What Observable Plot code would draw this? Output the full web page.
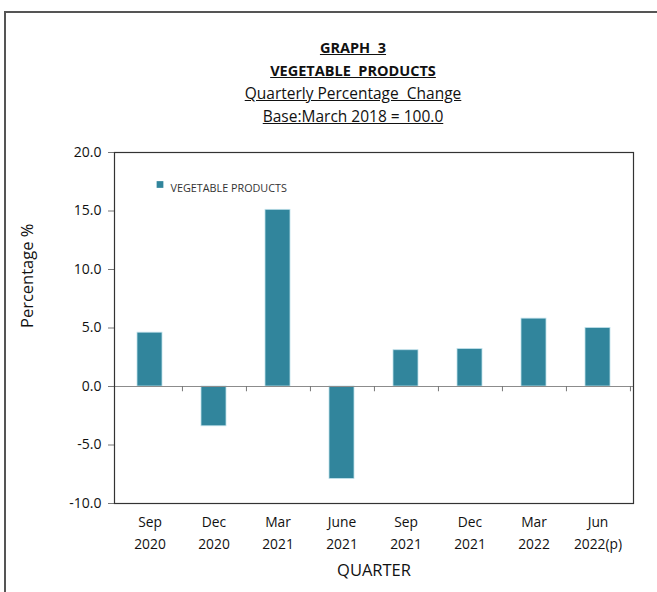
<!DOCTYPE html>
<html>
<head>
<meta charset="utf-8">
<script src="https://cdn.jsdelivr.net/npm/d3@7"></script>
<script src="https://cdn.jsdelivr.net/npm/@observablehq/plot@0.6"></script>
<style>
  html, body { margin: 0; padding: 0; background: #fff; overflow: hidden; }
  body { width: 657px; height: 592px; position: relative; font-family: "Open Sans", "Liberation Sans", sans-serif; }
  #border { position: absolute; left: 4px; top: 11px; width: 720px; height: 720px; border: 2px solid #555; box-sizing: border-box; }
  #titles { position: absolute; left: 0; top: 36px; width: 706px; text-align: center; color: #111; }
  #titles div { height: 23px; line-height: 23px; font-size: 14.5px; text-decoration: underline; }
  #titles .b { font-weight: bold; }
  #titles .n { font-size: 15.5px; }
  #chart { position: absolute; left: 0; top: 135px; }
</style>
</head>
<body>
<div id="border"></div>
<div id="titles">
  <div class="b">GRAPH&nbsp; 3</div>
  <div class="b">VEGETABLE&nbsp; PRODUCTS</div>
  <div class="n">Quarterly Percentage&nbsp; Change</div>
  <div class="n">Base:March 2018 = 100.0</div>
</div>
<div id="chart"></div>
<script>
const quarters = ["Sep 2020", "Dec 2020", "Mar 2021", "June 2021", "Sep 2021", "Dec 2021", "Mar 2022", "Jun 2022(p)"];
const quarterLabels = ["Sep\n2020", "Dec\n2020", "Mar\n2021", "June\n2021", "Sep\n2021", "Dec\n2021", "Mar\n2022", "Jun\n2022(p)"];
const values = [4.6, -3.4, 15.1, -7.9, 3.1, 3.2, 5.8, 5.0];
const seriesName = "VEGETABLE PRODUCTS";
const yTicks = [-10, -5, 0, 5, 10, 15, 20];

const data = quarters.map((q, i) => ({quarter: q, label: quarterLabels[i], value: values[i]}));

const W = 657, H = 457, mL = 114, mR = 24, mT = 17, mB = 89;
const band = (W - mL - mR) / quarters.length;
const barColor = "#31859C";
const font = "'Open Sans', 'Liberation Sans', sans-serif";

const chart = Plot.plot({
  width: W,
  height: H,
  marginLeft: mL,
  marginRight: mR,
  marginTop: mT,
  marginBottom: mB,
  style: {fontFamily: font, background: "transparent", color: "#111"},
  x: {domain: quarters, paddingInner: 0.615, paddingOuter: 0.3075, align: 0.5, axis: null},
  y: {domain: [-10, 20], axis: null},
  marks: [
    Plot.barY(data, {x: "quarter", y: "value", fill: barColor, stroke: "#bfe0ea", strokeWidth: 0.8}),
    Plot.ruleY([0], {stroke: "#8c8c8c", strokeWidth: 1.2}),
    Plot.ruleX(quarters, {x: d => d, y1: 0, y2: -0.45, dx: band / 2, stroke: "#777", strokeWidth: 1}),
    Plot.axisY({ticks: yTicks, tickFormat: d => d.toFixed(1), tickSize: 6, tickPadding: 7, fontSize: 14, stroke: "#777", label: null}),
    Plot.frame({stroke: "#333", strokeWidth: 1.2}),
    Plot.text(data, {x: "quarter", text: "label", frameAnchor: "bottom", lineAnchor: "top", dy: 8, fontSize: 13.8, lineHeight: 1.6, fill: "#111"}),
    Plot.text(["QUARTER"], {frameAnchor: "bottom", dy: 61, lineAnchor: "top", fontSize: 16.5, fill: "#111"}),
    Plot.text(["Percentage %"], {frameAnchor: "left", dx: -87, rotate: -90, fontSize: 16.5, fill: "#111"}),
    Plot.dot([seriesName], {frameAnchor: "top-left", dx: 45.5, dy: 32, symbol: "square", r: 3.8, fill: barColor, stroke: "none"}),
    Plot.text([seriesName], {frameAnchor: "top-left", dx: 56, dy: 32, textAnchor: "start", fontSize: 10.8, fill: "#333"})
  ]
});
document.getElementById("chart").appendChild(chart);
</script>
</body>
</html>
